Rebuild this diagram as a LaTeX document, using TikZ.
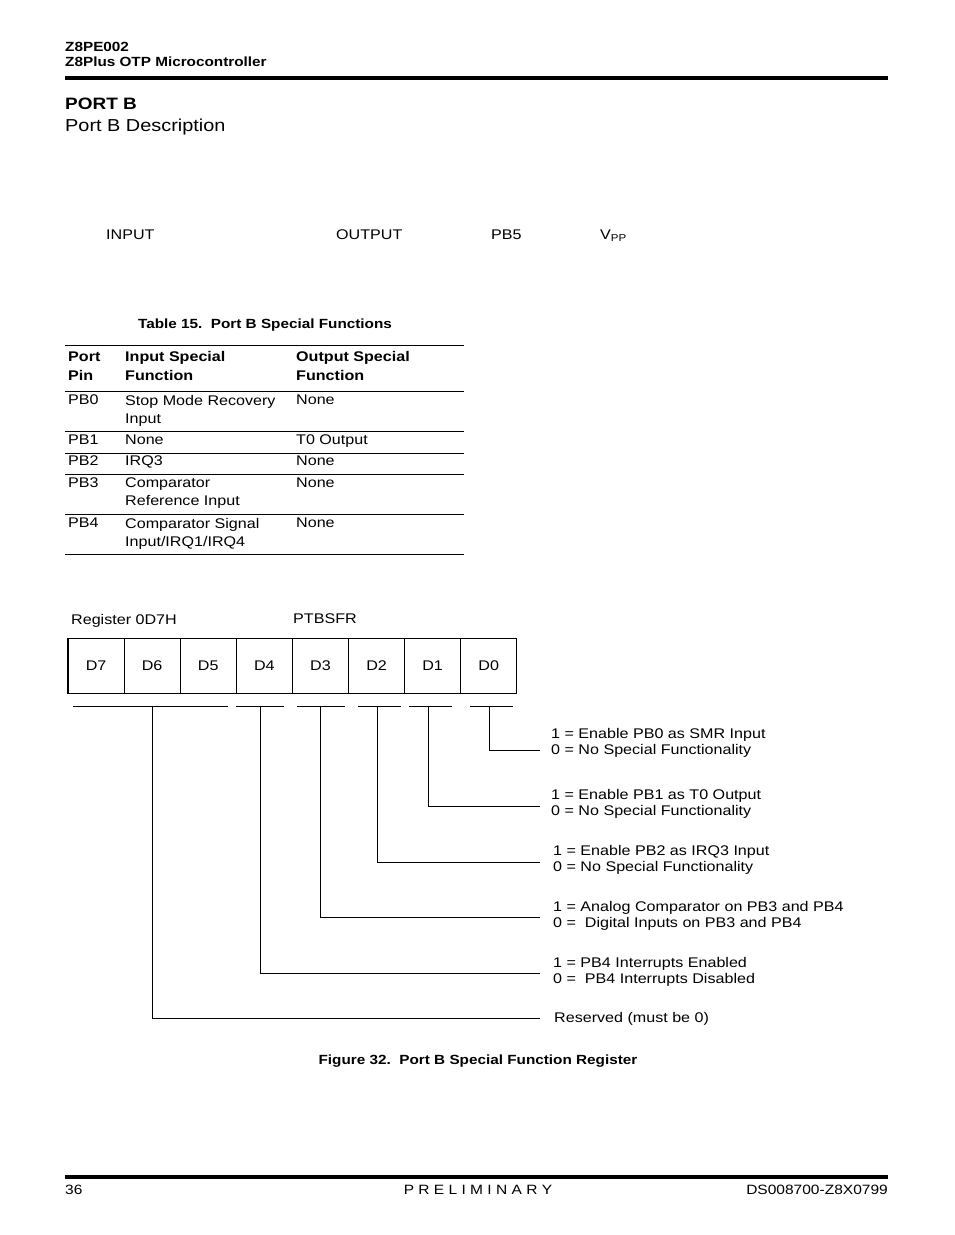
\documentclass[tikz,border=0pt]{standalone}
\usepackage{fontspec}
\setmainfont{Liberation Sans}[FakeStretch=1.15]
\usetikzlibrary{positioning}

\begin{document}
\begin{tikzpicture}[
  x=1pt, y=-1pt,
  txt/.style={inner sep=0pt, anchor=base west, align=left,
              font=\fontsize{14}{18}\selectfont},
  headtxt/.style={inner sep=0pt, anchor=base west,
              font=\fontsize{13.3}{15}\selectfont\bfseries},
  captxt/.style={inner sep=0pt, anchor=base,
              font=\fontsize{13.3}{16}\selectfont\bfseries},
  bitcell/.style={draw, line width=1.2pt, inner sep=0pt,
              minimum width=56.1pt, minimum height=55pt,
              font=\fontsize{14}{16}\selectfont},
  rule/.style={line width=1pt},
  link/.style={line width=1pt}
]
\fill[white] (0,0) rectangle (954,1235);
\useasboundingbox (0,0) rectangle (954,1235);

% page header
\node[headtxt] (part) at (65,51.5) {Z8PE002};
\node[headtxt] (prod) at (65,66.5) {Z8Plus OTP Microcontroller};
\draw[line width=3.5pt] (65,78) -- (888,78);
\node[inner sep=0pt, anchor=base west, font=\fontsize{16.5}{20}\selectfont\bfseries]
  (sect) at (65,109) {PORT B};
\node[inner sep=0pt, anchor=base west, font=\fontsize{17.3}{20}\selectfont]
  (subsect) at (65,131) {Port B Description};

% pin headings
\node[txt] (pin1) at (106,239) {INPUT};
\node[txt] (pin2) at (336,239) {OUTPUT};
\node[txt] (pin3) at (491,239) {PB5};
\node[txt] (pin4) at (600,239) {V\raisebox{-0.35ex}{\fontsize{10}{10}\selectfont PP}};

% Table 15 (base anchor sits on the last line)
\node[captxt] (tabcap) at (265,328) {Table 15.\ \ Port B Special Functions};
\foreach \y in {345,391,431.5,453,474,514,554}
  \draw[rule] (65,\y) -- (464,\y);
\node[txt, font=\fontsize{14}{19}\selectfont\bfseries] (hpin) at (68,380) {Port\\Pin};
\node[txt, font=\fontsize{14}{19}\selectfont\bfseries] (hin)  at (125,380) {Input Special\\Function};
\node[txt, font=\fontsize{14}{19}\selectfont\bfseries] (hout) at (296,380) {Output Special\\Function};
\foreach \y/\pin/\inp/\outp in {
    405/PB0/{Stop Mode Recovery\\Input}/None,
    445/PB1/None/T0 Output,
    466/PB2/IRQ3/None,
    488/PB3/{Comparator\\Reference Input}/None,
    528/PB4/{Comparator Signal\\Input/IRQ1/IRQ4}/None} {
  \node[txt, anchor=north west, yshift=10pt] (pin\pin) at (68,\y) {\pin};
  \node[txt, anchor=north west, yshift=10pt] (in\pin) at (125,\y) {\inp};
  \node[txt, anchor=north west, yshift=10pt] (out\pin) at (296,\y) {\outp};
}

% register PTBSFR
\node[txt] (regaddr) at (71,624) {Register 0D7H};
\node[txt] (regname) at (293,623) {PTBSFR};
\foreach \b in {7,...,0}
  \node[bitcell] (bit\b) at ({68+56.1*(7.5-\b)},666) {D\b};

% bit groups and their meaning
\foreach \n/\l/\r/\t/\y in {b0/470/513/489/750, b1/409/452/428/806,
    b2/358/401/377/862, b3/297/345/320/917, b4/236/284/260/973,
    res/73/228/152/1018} {
  \coordinate (\n-l) at (\l,706);
  \coordinate (\n-r) at (\r,706);
  \coordinate (\n-tap) at (\t,706);
  \coordinate (\n-end) at (540,\y);
  \draw[link] (\n-l) -- (\n-r);
  \draw[link] (\n-tap) |- (\n-end);
}
\node[txt, font=\fontsize{14}{16.5}\selectfont] (lab0) at (551,754.5)
  {1 = Enable PB0 as SMR Input\\0 = No Special Functionality};
\node[txt, font=\fontsize{14}{16.5}\selectfont] (lab1) at (551,815.5)
  {1 = Enable PB1 as T0 Output\\0 = No Special Functionality};
\node[txt, font=\fontsize{14}{16.5}\selectfont] (lab2) at (553,871.5)
  {1 = Enable PB2 as IRQ3 Input\\0 = No Special Functionality};
\node[txt, font=\fontsize{14}{16.5}\selectfont] (lab3) at (553,927.5)
  {1 = Analog Comparator on PB3 and PB4\\0 = \ Digital Inputs on PB3 and PB4};
\node[txt, font=\fontsize{14}{16.5}\selectfont] (lab4) at (553,983.5)
  {1 = PB4 Interrupts Enabled\\0 = \ PB4 Interrupts Disabled};
\node[txt] (labres) at (554,1022) {Reserved (must be 0)};
\node[captxt] (figcap) at (478,1064) {Figure 32.\ \ Port B Special Function Register};

% page footer
\draw[line width=3.5pt] (65,1177) -- (888,1177);
\node[txt, font=\fontsize{13.5}{16}\selectfont] (page) at (65,1194) {36};
\node[txt, anchor=base, font=\fontsize{13.5}{16}\selectfont] (prelim) at (478,1194)
  {P R E L I M I N A R Y};
\node[txt, anchor=base east, font=\fontsize{13.5}{16}\selectfont] (docno) at (888,1194)
  {DS008700-Z8X0799};
\end{tikzpicture}
\end{document}
